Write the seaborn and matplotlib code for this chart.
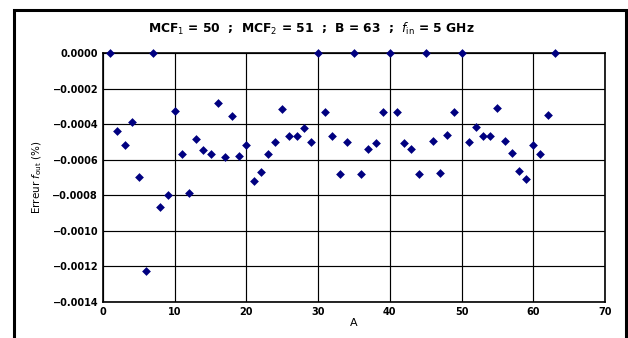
import numpy as np
import pandas as pd
import matplotlib
matplotlib.use("Agg")
import matplotlib.pyplot as plt
import seaborn as sns
from matplotlib.patches import Rectangle

# A = 1..63 (B = 63), erreur relative sur f_out en %
a_values = list(range(1, 64))
erreur = [
    0.0, -0.000439, -0.000517, -0.000388, -0.000697, -0.001226, 0.0, -0.000866,
    -0.000798, -0.000326, -0.000568, -0.000787, -0.000484, -0.000545, -0.000568,
    -0.000281, -0.000585, -0.000354, -0.000579, -0.000517, -0.000720, -0.000669,
    -0.000568, -0.000500, -0.000315, -0.000467, -0.000467, -0.000422, -0.000500,
    0.0, -0.000332, -0.000467, -0.000680, -0.000500, 0.0, -0.000680, -0.000540,
    -0.000506, -0.000332, 0.0, -0.000332, -0.000506, -0.000540, -0.000680, 0.0,
    -0.000495, -0.000675, -0.000461, -0.000332, 0.0, -0.000500, -0.000416,
    -0.000467, -0.000467, -0.000309, -0.000495, -0.000562, -0.000663, -0.000708,
    -0.000517, -0.000568, -0.000349, 0.0,
]
x_ticks = [0, 10, 20, 30, 40, 50, 60, 70]
y_ticks = [-0.0014, -0.0012, -0.0010, -0.0008, -0.0006, -0.0004, -0.0002, 0.0]

df = pd.DataFrame({"A": a_values, "err": erreur})

sns.set_style("white")
plt.rcParams["font.family"] = ["DejaVu Sans"]
plt.rcParams["text.color"] = "black"
plt.rcParams["axes.labelcolor"] = "black"
plt.rcParams["xtick.color"] = "black"
plt.rcParams["ytick.color"] = "black"

fig = plt.figure(figsize=(6.28, 3.38), dpi=100)
ax = fig.add_axes([103 / 628, 1 - 302 / 338, 502 / 628, 249 / 338])

sns.scatterplot(data=df, x="A", y="err", marker="D", color="#000080",
                edgecolor="#000080", linewidth=0, s=20, ax=ax, clip_on=False, zorder=5)

ax.set_xlim(0, 70)
ax.set_ylim(-0.0014, 0.0)
ax.set_xticks(x_ticks)
ax.set_yticks(y_ticks)
ax.set_xticklabels([str(t) for t in x_ticks], fontweight="bold", fontsize=7)
ax.set_yticklabels([f"{t:.4f}".replace("-", "\u2212") if t != 0 else "0.0000" for t in y_ticks],
                   fontweight="bold", fontsize=7)
ax.tick_params(direction="inout", length=5, width=1, color="black", pad=1)
ax.grid(True, color="black", linewidth=0.85)
for s in ax.spines.values():
    s.set_color("black")
    s.set_linewidth(1.2)

ax.set_xlabel("A", fontsize=8, labelpad=1)
ax.set_ylabel(r"Erreur $\mathit{f}_{\rm out}$ (%)", fontsize=7.5, labelpad=6)
fig.text(311 / 628, 1 - 29 / 338,
         r"MCF$_1$ = 50  ;  MCF$_2$ = 51  ;  B = 63  ;  $\mathit{f}_{\rm in}$ = 5 GHz",
         fontsize=8.8, fontweight="bold", ha="center", va="center")

# cadre extérieur
fig.patches.append(Rectangle((14 / 628, -0.1), 612 / 628, 1.1 - 9.5 / 338,
                             transform=fig.transFigure, fill=False,
                             edgecolor="black", linewidth=2.2, zorder=10))

fig.savefig("out.png", dpi=100)
